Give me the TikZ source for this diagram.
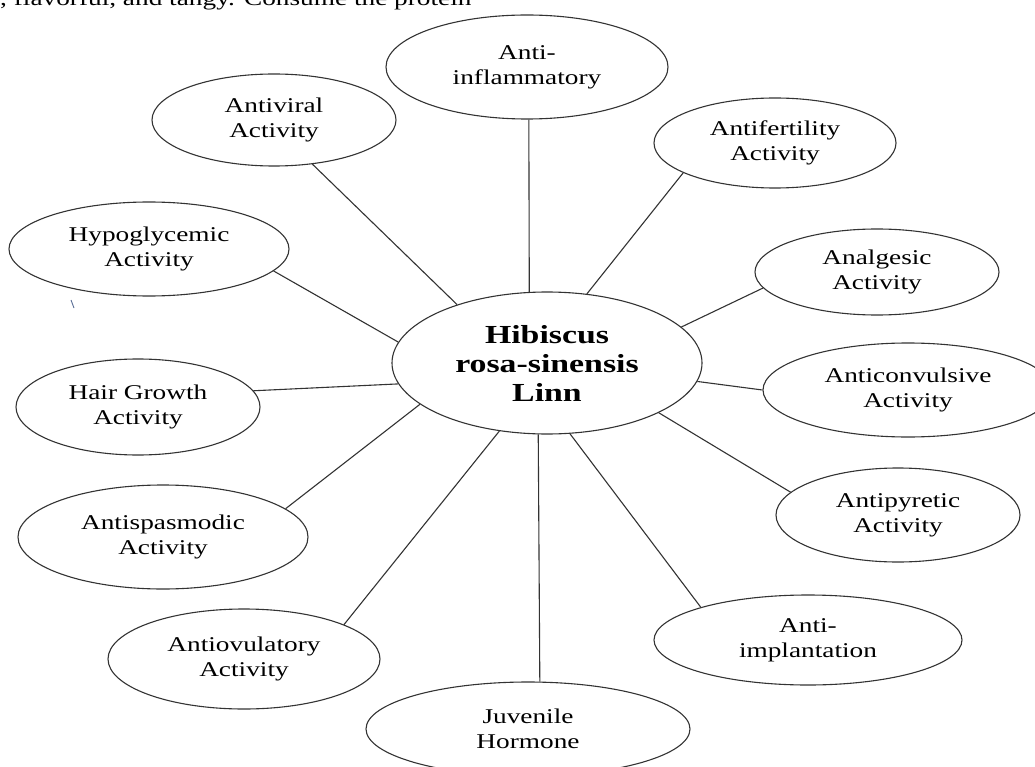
\documentclass[tikz,border=0pt]{standalone}
\usepackage{fontspec}
\newfontfamily\lab[FakeStretch=1.3]{Liberation Serif}
\usetikzlibrary{shapes.geometric}
\tikzset{
  act/.style={ellipse, draw=black!80, line width=1.1pt, inner sep=0pt, align=center,
    font=\lab\fontsize{21}{25}\selectfont},
  conn/.style={draw=black!80, line width=1.1pt},
}
\begin{document}
\begin{tikzpicture}[x=1pt,y=1pt]
\useasboundingbox (0,0) rectangle (1035,-767);
\clip (0,0) rectangle (1035,-767);
\fill[white] (0,0) rectangle (1035,-767);
\node[anchor=base west, inner sep=0pt, font=\lab\fontsize{21}{25}\selectfont] (toptext) at (0,-6) {, flavorful, and tangy. Consume the protein};
\node[act, minimum width=282, minimum height=104] (ai) at (527,-67) {Anti-\\inflammatory};
\node[act, minimum width=244, minimum height=92] (av) at (274,-120) {Antiviral\\Activity};
\node[act, minimum width=242, minimum height=90] (af) at (775,-143) {Antifertility\\Activity};
\node[act, minimum width=280, minimum height=94] (hy) at (149,-249) {Hypoglycemic\\Activity};
\node[act, minimum width=244, minimum height=86] (an) at (877,-272) {Analgesic\\Activity};
\node[act, minimum width=310, minimum height=142, font=\lab\bfseries\fontsize{26}{29}\selectfont] (c) at (547,-363) {Hibiscus\\rosa-sinensis\\Linn};
\node[act, minimum width=244, minimum height=96] (hg) at (138,-407) {Hair Growth\\Activity};
\node[act, minimum width=290, minimum height=94] (ac) at (908,-390) {Anticonvulsive\\Activity};
\node[act, minimum width=290, minimum height=104] (as) at (163,-537) {Antispasmodic\\Activity};
\node[act, minimum width=244, minimum height=94] (ap) at (898,-515) {Antipyretic\\Activity};
\node[act, minimum width=272, minimum height=100] (ao) at (244,-659) {Antiovulatory\\Activity};
\node[act, minimum width=308, minimum height=90] (aim) at (808,-640) {Anti-\\implantation};
\node[act, minimum width=324, minimum height=94] (j) at (528,-729) {Juvenile\\Hormone};
% connectors
\draw[conn] (ai.272) -- (c.104);
\draw[conn] (av.-49) -- (c.147);
\draw[conn] (af.198) -- (c.60);
\draw[conn] (hy.-10) -- (c.172);
\draw[conn] (hg.8) -- (c.188.5);
\draw[conn] (as.13.6) -- (c.198.4);
\draw[conn] (ao.19) -- (c.235.4);
\draw[conn] (j.76.5) -- (c.263);
\draw[conn] (an.188.4) -- (c.15.5);
\draw[conn] (ac.180) -- (c.-7.4);
\draw[conn] (ap.168.8) -- (c.-24.4);
\draw[conn] (aim.163.3) -- (c.-72.5);
% stray mark
\draw[line width=0.9pt, color={rgb,255:red,90;green,110;blue,150}] (71,-300) -- (74,-308);
\end{tikzpicture}
\end{document}
